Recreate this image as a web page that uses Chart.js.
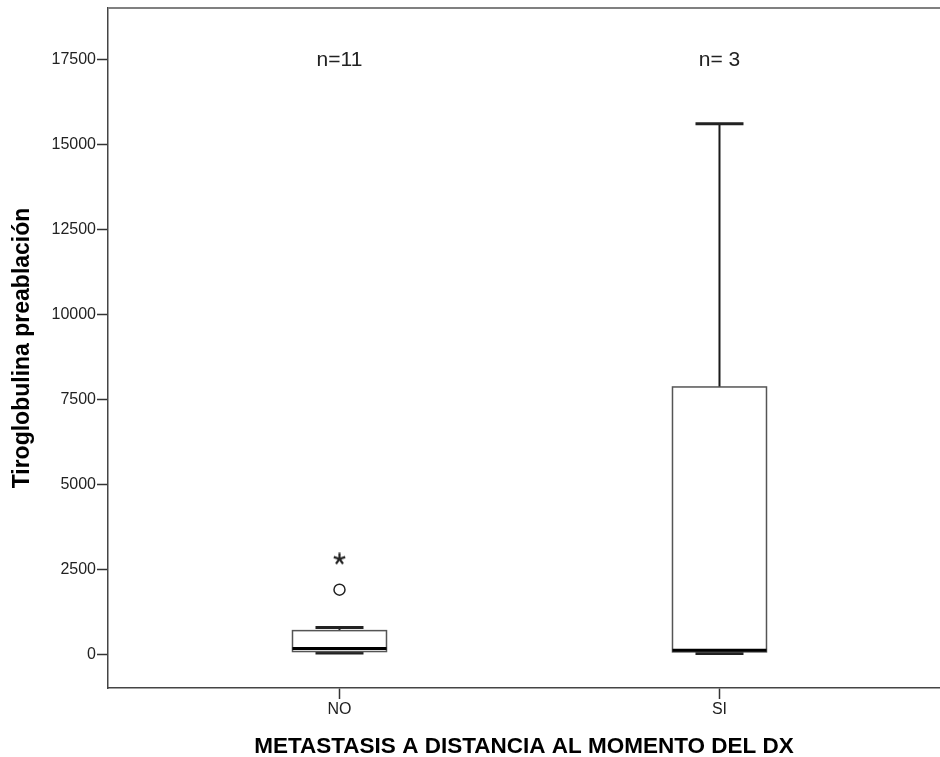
<!DOCTYPE html>
<html>
<head>
<meta charset="utf-8">
<script src="https://cdn.jsdelivr.net/npm/chart.js@4.4.1/dist/chart.umd.min.js"></script>
<style>
html,body{margin:0;padding:0;background:#ffffff;overflow:hidden;}
#wrap{width:940px;height:757px;position:relative;}
</style>
</head>
<body>
<div id="wrap"><canvas id="c"></canvas></div>
<script>
// ---- data ----
const categories = ['NO', 'SI'];
const groupN = ['n=11', 'n= 3'];
const whiskerLow = [50, 30];
const q1 = [90, 79];
const median = [180, 128];
const q3 = [705, 7873];
const whiskerHigh = [800, 15618];
const outliersCircle = [[1910], []];
const outliersStar = [[2815], []];
const yTicks = [0, 2500, 5000, 7500, 10000, 12500, 15000, 17500];
const yMin = -983;
const yMax = 19022;
const xTitle = 'METASTASIS A DISTANCIA AL MOMENTO DEL DX';
const yTitle = 'Tiroglobulina preablación';

const FONT = "'Liberation Sans', Arial, sans-serif";

// star (asterisk) marker image
function makeStar(size) {
  const cv = document.createElement('canvas');
  cv.width = size; cv.height = size;
  const g = cv.getContext('2d');
  const c = size / 2, r = size / 2 - 0.5;
  g.strokeStyle = '#222';
  g.lineWidth = 2.2;
  g.lineCap = 'butt';
  for (let k = 0; k < 5; k++) {
    const a = (-90 + k * 72) * Math.PI / 180;
    g.beginPath();
    g.moveTo(c, c);
    g.lineTo(c + r * Math.cos(a), c + r * Math.sin(a));
    g.stroke();
  }
  return cv;
}

const circlePts = [];
const starPts = [];
categories.forEach((c, i) => {
  outliersCircle[i].forEach(v => circlePts.push({x: i + 1, y: v}));
  outliersStar[i].forEach(v => starPts.push({x: i + 1, y: v}));
});

const boxPlugin = {
  id: 'boxes',
  beforeDatasetsDraw(chart) {
    const {ctx, scales: {x, y}} = chart;
    const halfBox = 47, halfCap = 24;
    ctx.save();
    categories.forEach((c, i) => {
      const cx = x.getPixelForValue(i + 1);
      const yLo = y.getPixelForValue(whiskerLow[i]);
      const yQ1 = y.getPixelForValue(q1[i]);
      const yMed = y.getPixelForValue(median[i]);
      const yQ3 = y.getPixelForValue(q3[i]);
      const yHi = y.getPixelForValue(whiskerHigh[i]);
      // whiskers
      ctx.strokeStyle = '#1a1a1a';
      ctx.lineWidth = 2;
      ctx.beginPath();
      ctx.moveTo(cx, yQ3); ctx.lineTo(cx, yHi);
      ctx.moveTo(cx, yQ1); ctx.lineTo(cx, yLo);
      ctx.stroke();
      // caps
      ctx.lineWidth = 3;
      ctx.strokeStyle = '#222';
      ctx.beginPath();
      ctx.moveTo(cx - halfCap, yHi); ctx.lineTo(cx + halfCap, yHi);
      ctx.moveTo(cx - halfCap, yLo); ctx.lineTo(cx + halfCap, yLo);
      ctx.stroke();
      // box
      ctx.fillStyle = '#ffffff';
      ctx.fillRect(cx - halfBox, yQ3, halfBox * 2, yQ1 - yQ3);
      ctx.lineWidth = 1.5;
      ctx.strokeStyle = '#555';
      ctx.strokeRect(cx - halfBox, yQ3, halfBox * 2, yQ1 - yQ3);
      // median
      ctx.lineWidth = 3;
      ctx.strokeStyle = '#000';
      ctx.beginPath();
      ctx.moveTo(cx - halfBox, yMed); ctx.lineTo(cx + halfBox, yMed);
      ctx.stroke();
    });
    ctx.restore();
  },
  afterDraw(chart) {
    const {ctx, chartArea, scales: {x, y}} = chart;
    ctx.save();
    // top frame line
    ctx.strokeStyle = '#808080';
    ctx.lineWidth = 2;
    ctx.beginPath();
    ctx.moveTo(chartArea.left, chartArea.top);
    ctx.lineTo(chartArea.right, chartArea.top);
    ctx.stroke();
    // n labels
    ctx.fillStyle = '#222';
    ctx.font = '21px ' + FONT;
    ctx.textAlign = 'center';
    ctx.textBaseline = 'middle';
    categories.forEach((c, i) => {
      ctx.fillText(groupN[i], x.getPixelForValue(i + 1), y.getPixelForValue(yTicks[yTicks.length - 1]));
    });
    ctx.restore();
  }
};

new Chart(document.getElementById('c'), {
  type: 'scatter',
  data: {
    datasets: [
      {
        label: 'circle',
        data: circlePts,
        pointStyle: 'circle',
        radius: 5.5,
        borderWidth: 1.5,
        borderColor: '#222',
        backgroundColor: '#ffffff'
      },
      {
        label: 'star',
        data: starPts,
        pointStyle: makeStar(13),
        radius: 6.5
      }
    ]
  },
  options: {
    responsive: true,
    maintainAspectRatio: false,
    animation: false,
    devicePixelRatio: 1,
    layout: {autoPadding: false, padding: {top: 8, left: 0, right: 0, bottom: 0}},
    plugins: {legend: {display: false}, tooltip: {enabled: false}},
    scales: {
      x: {
        type: 'linear',
        min: 0.3908,
        max: 2.5803,
        afterBuildTicks: (s) => { s.ticks = categories.map((c, i) => ({value: i + 1})); },
        afterFit: (s) => { s.height = 69; s.paddingLeft = 0; s.paddingRight = 0; },
        ticks: {
          callback: (v) => categories[v - 1],
          font: {family: FONT, size: 16},
          color: '#222',
          padding: 1,
          autoSkip: false,
          maxRotation: 0
        },
        grid: {drawOnChartArea: false, drawTicks: true, tickLength: 11, tickColor: '#333', tickWidth: 1.5},
        border: {display: true, color: '#444', width: 1.5},
        title: {
          display: true,
          text: xTitle,
          font: {family: FONT, size: 22.5, weight: 'bold', lineHeight: 0.95},
          color: '#000',
          padding: {top: 0, bottom: 0}
        }
      },
      y: {
        type: 'linear',
        min: yMin,
        max: yMax,
        afterBuildTicks: (s) => { s.ticks = yTicks.map(v => ({value: v})); },
        afterFit: (s) => { s.width = 108; s.paddingTop = 0; s.paddingBottom = 0; },
        ticks: {
          callback: (v) => String(v),
          font: {family: FONT, size: 16},
          color: '#222',
          padding: 1
        },
        grid: {drawOnChartArea: false, drawTicks: true, tickLength: 11, tickColor: '#333', tickWidth: 1.5},
        border: {display: true, color: '#444', width: 1.5},
        title: {
          display: true,
          text: yTitle,
          font: {family: FONT, size: 23, weight: 'bold', lineHeight: 1.05},
          color: '#000',
          padding: {top: 11, bottom: 0}
        }
      }
    }
  },
  plugins: [boxPlugin]
});
</script>
</body>
</html>
